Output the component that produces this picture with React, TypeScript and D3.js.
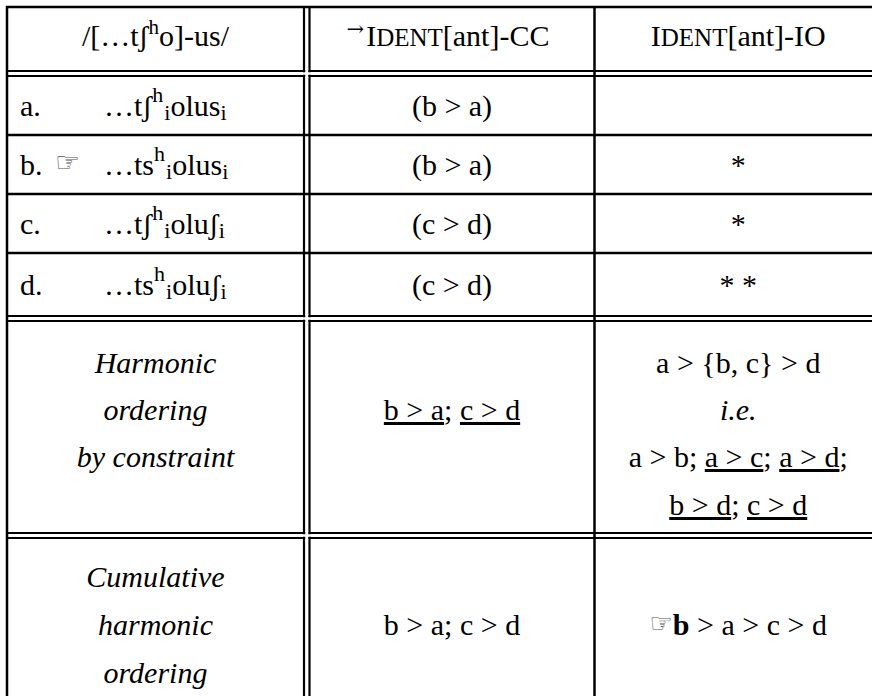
import React from 'react';
import * as d3 from 'd3';

// tableau content
const labels = ['a.', 'b.', 'c.', 'd.'];
const onsets = ['tʃ', 'ts', 'tʃ', 'ts'];
const codas = ['s', 's', 'ʃ', 'ʃ'];
const winner = 'b.';
const ccMarks = ['(b > a)', '(b > a)', '(c > d)', '(c > d)'];
const ioMarks = ['', '*', '*', '* *'];
const harmonicTitle = ['Harmonic', 'ordering', 'by constraint'];
const cumulativeTitle = ['Cumulative', 'harmonic', 'ordering'];
const ccPairs = ['b > a', 'c > d'];
const ccUnderlined = [true, true];
const ioSummary = 'a > {b, c} > d';
const ioPairs = ['a > b', 'a > c', 'a > d', 'b > d', 'c > d'];
const ioUnderlined = [false, true, true, true, true];
const cumulativeCC = ['b > a', 'c > d'];
const cumulativeIO = ['b', 'a', 'c', 'd'];

const W = 872;
const H = 696;
const FONT = '"Liberation Serif", "Times New Roman", serif';
const FS = 30;

const colEdges = [7, 304, 309.5, 594.5, 882];
const colCenter = d3.scaleOrdinal<number, number>()
  .domain([0, 1, 2])
  .range([(colEdges[0] + colEdges[1]) / 2, (colEdges[2] + colEdges[3]) / 2, (colEdges[3] + colEdges[4]) / 2]);
// row boundaries of the four candidates
const candY = d3.scaleLinear().domain([0, 1, 2, 3, 4]).range([76, 135, 194, 253, 316]);
// the double rules under header, candidates and harmonic rows
const doubles = [[71, 76], [316, 321], [533, 538]];

const Pairs = ({ items, under, sep }: { items: string[]; under: boolean[]; sep: string }) => (
  <>
    {items.map((p, i) => (
      <React.Fragment key={i}>
        <tspan style={under[i] ? { textDecoration: 'underline' } : undefined}>{p}</tspan>
        {i < items.length - 1 ? <tspan>{sep}</tspan> : null}
      </React.Fragment>
    ))}
  </>
);

export default function App() {
  const hLines: [number, number][] = [
    [7, 2.5],
    [candY(1), 2.5], [candY(2), 2.5], [candY(3), 2.5],
    ...doubles.flatMap(([a, b]) => [[a, 2.2], [b, 2.2]] as [number, number][]),
  ];
  const vLines: [number, number][] = [[7, 2.5], [304, 2.2], [309.5, 2.2], [594.5, 2.5]];

  return (
    <svg width={W} height={H} style={{ position: 'absolute', left: 0, top: 0, background: '#fff' }}
      fontFamily={FONT} fontSize={FS} fill="#000">
      <rect width={W} height={H} fill="#fff" />
      {hLines.map(([y, w], i) => (
        <line key={'h' + i} x1={colEdges[0] - 1} x2={W + 10} y1={y} y2={y} stroke="#000" strokeWidth={w} />
      ))}
      {vLines.map(([x, w], i) => (
        <line key={'v' + i} x1={x} x2={x} y1={6} y2={H + 10} stroke="#000" strokeWidth={w} />
      ))}
      {/* open the crossings of double rules */}
      {doubles.map(([a, b], i) => (
        <g key={'x' + i} fill="#fff">
          <rect x={305.3} y={a - 2} width={2.9} height={b - a + 4} />
          <rect x={302} y={a + 1.3} width={10} height={b - a - 2.6} />
        </g>
      ))}

      {/* header */}
      <text x={colCenter(0)} y={46} textAnchor="middle">
        /[…tʃ<tspan fontSize={21} dy={-12}>h</tspan><tspan dy={12}>o]-us/</tspan>
      </text>
      {[0, 1].map((c) => {
        const [name, rest] = ['IDENT', c === 0 ? '[ant]-CC' : '[ant]-IO'];
        return (
          <text key={c} x={colCenter(c + 1) - (c === 0 ? 4 : 0)} y={46} textAnchor="middle">
            {c === 0 ? <tspan fontFamily="DejaVu Serif" fontSize={21} dy={-10}>→</tspan> : null}
            <tspan dy={c === 0 ? 10 : 0} dx={c === 0 ? 2 : 0}>{name[0]}</tspan>
            <tspan fontSize={25}>{name.slice(1)}</tspan>
            <tspan>{rest}</tspan>
          </text>
        );
      })}

      {/* candidate rows */}
      {labels.map((l, i) => {
        const y = (candY(i) + candY(i + 1)) / 2 + 10;
        return (
          <g key={l}>
            <text x={20} y={y}>{l}</text>
            {l === winner ? (
              <text x={55} y={y - 3} fontFamily="DejaVu Sans" fontSize={28} fill="#555">☞</text>
            ) : null}
            <text x={104} y={y}>
              …{onsets[i]}
              <tspan fontSize={22} dy={-14}>h</tspan>
              <tspan fontSize={22} dy={18} dx={1}>i</tspan>
              <tspan dy={-4}>olu{codas[i]}</tspan>
              <tspan fontSize={22} dy={4}>i</tspan>
            </text>
            <text x={colCenter(1)} y={y} textAnchor="middle">{ccMarks[i]}</text>
            <text x={colCenter(2)} y={y} textAnchor="middle">{ioMarks[i]}</text>
          </g>
        );
      })}

      {/* harmonic ordering by constraint */}
      {harmonicTitle.map((t, i) => (
        <text key={t} x={colCenter(0)} y={373 + i * 47} textAnchor="middle" fontStyle="italic">{t}</text>
      ))}
      <text x={colCenter(1)} y={420} textAnchor="middle">
        <Pairs items={ccPairs} under={ccUnderlined} sep="; " />
      </text>
      <text x={colCenter(2)} y={373} textAnchor="middle">{ioSummary}</text>
      <text x={colCenter(2)} y={420} textAnchor="middle" fontStyle="italic">i.e.</text>
      <text x={colCenter(2)} y={467} textAnchor="middle">
        <Pairs items={ioPairs.slice(0, 3)} under={ioUnderlined.slice(0, 3)} sep="; " />;
      </text>
      <text x={colCenter(2)} y={515} textAnchor="middle">
        <Pairs items={ioPairs.slice(3)} under={ioUnderlined.slice(3)} sep="; " />
      </text>

      {/* cumulative harmonic ordering */}
      {cumulativeTitle.map((t, i) => (
        <text key={t} x={colCenter(0)} y={587 + i * 48} textAnchor="middle" fontStyle="italic">{t}</text>
      ))}
      <text x={colCenter(1)} y={635} textAnchor="middle">{cumulativeCC.join('; ')}</text>
      <text x={colCenter(2)} y={635} textAnchor="middle">
        <tspan fontFamily="DejaVu Sans" fontSize={26} fill="#555" dy={-3}>☞</tspan>
        <tspan fontWeight="bold" dy={3}>{cumulativeIO[0]}</tspan>
        <tspan>{' > ' + cumulativeIO.slice(1).join(' > ')}</tspan>
      </text>
    </svg>
  );
}
